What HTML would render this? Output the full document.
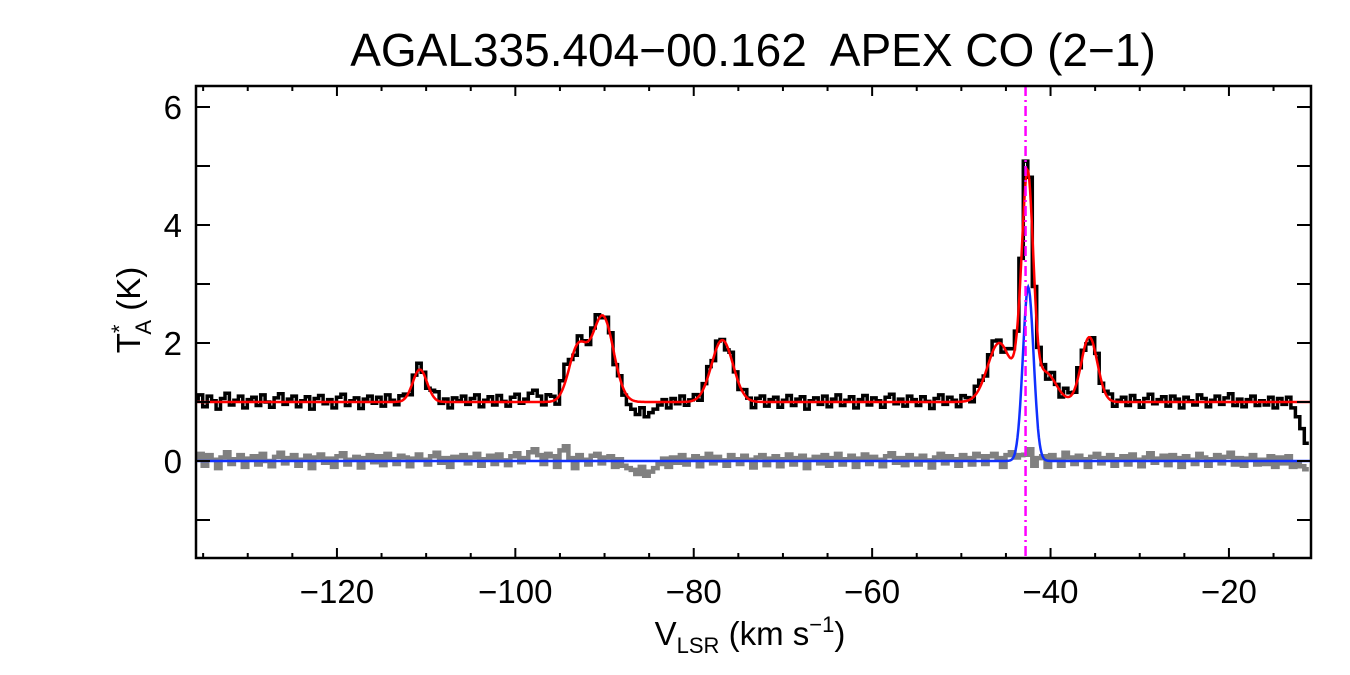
<!DOCTYPE html>
<html><head><meta charset="utf-8"><style>
html,body{margin:0;padding:0;background:#fff;}
svg{display:block;font-family:"Liberation Sans",Arial,sans-serif;}
</style></head><body>
<svg id="chart" width="1350" height="675" viewBox="0 0 1350 675" xmlns="http://www.w3.org/2000/svg">
<text x="753" y="66" font-size="46" text-anchor="middle" xml:space="preserve">AGAL335.404−00.162  APEX CO (2−1)</text>
<text transform="translate(140,310) rotate(-90)" font-size="33" text-anchor="middle">T<tspan font-size="22" dy="-13">*</tspan><tspan font-size="22" dx="-10" dy="24">A</tspan><tspan dy="-11"> (K)</tspan></text>
<text x="750" y="645" font-size="33" text-anchor="middle">V<tspan font-size="22" dy="8">LSR</tspan><tspan dy="-8"> (km s</tspan><tspan font-size="22" dy="-13">−1</tspan><tspan dy="13">)</tspan></text>
<g id="plot"></g>
</svg>
<script>
const xTicks = [-120,-100,-80,-60,-40,-20];
const yTicks = [0,2,4,6];
// Gaussian fit components (red model): amplitude, center, sigma
const fitAmp = [0.55,0.9,1.45,1.05,1.0,1.0,2.95,0.5,1.1];
const fitCen = [-110.7,-93.0,-90.2,-76.8,-45.75,-43.0,-42.5,-40.6,-35.65];
const fitSig = [0.8,1.0,1.2,1.2,1.3,0.7,0.6,1.2,0.9];
const baseLevel = 1.0;
// Blue component
const blueAmp = 2.95, blueCen = -42.5, blueSig = 0.6;
const sourceVelocity = -42.8;
// Velocity channels
const vStart = -135.8, vStep = 0.5;
// Residuals (K) per channel (0.5 km/s)
const residual = [
0.05,0.12,-0.08,0.10,0.02,-0.12,0.06,0.15,-0.05,0.03,0.10,-0.10,0.04,0.08,-0.06,0.12,0.00,-0.09,0.07,0.14,
-0.04,0.05,0.10,-0.08,0.02,0.09,-0.12,0.06,0.11,-0.03,0.04,-0.10,0.08,0.13,-0.06,0.02,0.07,-0.11,0.05,0.10,
-0.02,0.08,-0.07,0.12,0.03,-0.05,0.09,0.06,-0.09,0.04,0.11,0.02,-0.06,0.08,0.14,-0.03,0.05,-0.10,0.07,0.02,
0.10,-0.04,0.06,0.12,-0.08,0.03,0.09,-0.05,0.11,0.01,-0.07,0.08,0.13,-0.02,0.05,0.15,0.20,0.10,-0.05,0.12,
0.08,-0.10,0.18,0.25,0.05,-0.12,0.10,0.02,-0.06,0.09,0.12,-0.04,0.06,0.08,-0.10,0.03,-0.08,-0.12,-0.15,-0.22,
-0.10,-0.25,-0.18,-0.12,-0.05,0.04,-0.10,0.06,-0.03,0.10,-0.06,0.02,0.08,-0.09,0.05,0.12,-0.04,0.07,0.01,-0.08,
0.10,0.03,-0.05,0.09,0.02,-0.11,0.06,0.10,-0.07,0.04,0.08,-0.09,0.03,0.11,-0.06,0.05,0.09,-0.12,0.02,0.07,
-0.04,0.10,-0.08,0.05,0.12,-0.06,0.03,0.09,-0.10,0.04,0.11,-0.05,0.07,0.02,-0.09,0.08,0.13,-0.03,0.05,-0.07,
0.10,0.04,-0.06,0.09,0.01,-0.11,0.06,0.12,-0.04,0.08,0.03,-0.08,0.10,0.05,-0.06,0.12,0.08,-0.05,0.08,0.12,
0.05,-0.10,0.10,0.15,0.06,0.10,0.35,0.20,-0.08,0.05,0.08,-0.10,0.10,0.02,-0.08,0.14,0.06,-0.05,0.09,0.03,
-0.10,0.07,0.12,-0.04,0.05,0.10,-0.08,0.03,0.08,-0.06,0.11,0.02,-0.09,0.06,0.13,-0.03,0.04,0.09,-0.07,0.10,
0.05,-0.10,0.08,0.02,-0.05,0.12,0.06,-0.08,0.03,0.10,-0.04,0.07,0.14,-0.06,0.05,-0.08,0.04,0.10,-0.06,0.02,
-0.05,0.08,-0.10,0.06,-0.04,0.08,-0.10,-0.25,-0.45,-0.70
];
const X0=196,X1=1311,Y0=86,Y1=558;
const vMin=-135.8,vMax=-10.8,tMin=-1.644,tMax=6.356;
const xs=v=>X0+(v-vMin)/(vMax-vMin)*(X1-X0);
const ys=t=>Y1-(t-tMin)/(tMax-tMin)*(Y1-Y0);
const g=(a,c,s,v)=>a*Math.exp(-0.5*((v-c)/s)**2);
const model=v=>{let t=baseLevel;for(let i=0;i<fitAmp.length;i++)t+=g(fitAmp[i],fitCen[i],fitSig[i],v);return t;};
const NS="http://www.w3.org/2000/svg";
const plot=document.getElementById('plot');
function mk(tag,attrs,parent){const e=document.createElementNS(NS,tag);for(const k in attrs)e.setAttribute(k,attrs[k]);(parent||plot).appendChild(e);return e;}
const cp=mk('clipPath',{id:'clip'});mk('rect',{x:X0,y:Y0,width:X1-X0,height:Y1-Y0},cp);
function stepPath(vals){let d='';for(let i=0;i<vals.length;i++){const v=vStart+i*vStep;const xa=xs(v-vStep/2),xb=xs(v+vStep/2),y=ys(vals[i]);d+=(i?'L':'M')+xa.toFixed(1)+','+y.toFixed(1)+'L'+xb.toFixed(1)+','+y.toFixed(1);}return d;}
const grayVals=residual.map((r,i)=>(i>=residual.length-3?r*0.2:(i===186?r*0.3:r)));
const blackVals=residual.map((r,i)=>model(vStart+i*vStep)+r);
let p=mk('path',{d:stepPath(grayVals),fill:'none',stroke:'#808080','stroke-width':4.5,'clip-path':'url(#clip)'});


p=mk('path',{d:stepPath(blackVals),fill:'none',stroke:'#000','stroke-width':3.5,'clip-path':'url(#clip)'});


function smooth(f){let d='';for(let v=vMin;v<=vMax;v+=0.1){d+=(d?'L':'M')+xs(v).toFixed(1)+','+ys(f(v)).toFixed(1);}return d;}
p=mk('path',{d:smooth(model),fill:'none',stroke:'#f00','stroke-width':2.5,'clip-path':'url(#clip)'});


p=mk('path',{d:smooth(v=>g(blueAmp,blueCen,blueSig,v)),fill:'none',stroke:'#1030ff','stroke-width':2.5,'clip-path':'url(#clip)'});


p=mk('line',{x1:xs(sourceVelocity),x2:xs(sourceVelocity),y1:Y0,y2:Y1,stroke:'#f0f','stroke-width':2.5,'stroke-dasharray':'10,4,2,4'});


p=mk('rect',{x:X0,y:Y0,width:X1-X0,height:Y1-Y0,fill:'none',stroke:'#000','stroke-width':2.5});


for(let v=-135;v<=vMax;v+=5){const x=xs(v);const major=v%20===0;const L=major?10:5;
mk('line',{x1:x,x2:x,y1:Y1,y2:Y1-L,stroke:'#000','stroke-width':2});
mk('line',{x1:x,x2:x,y1:Y0,y2:Y0+L,stroke:'#000','stroke-width':2});}
for(const v of xTicks){const t=mk('text',{x:xs(v),y:Y1+45,'font-size':33,'text-anchor':'middle'});t.textContent=String(v).replace('-','−');

}
for(let t=-1;t<=6;t++){const y=ys(t);const L=14;
mk('line',{x1:X0,x2:X0+L,y1:y,y2:y,stroke:'#000','stroke-width':2});
mk('line',{x1:X1,x2:X1-L,y1:y,y2:y,stroke:'#000','stroke-width':2});}
for(const t of yTicks){const e=mk('text',{x:X0-14,y:ys(t)+12,'font-size':33,'text-anchor':'end'});e.textContent=t;

}
</script>
</body></html>
